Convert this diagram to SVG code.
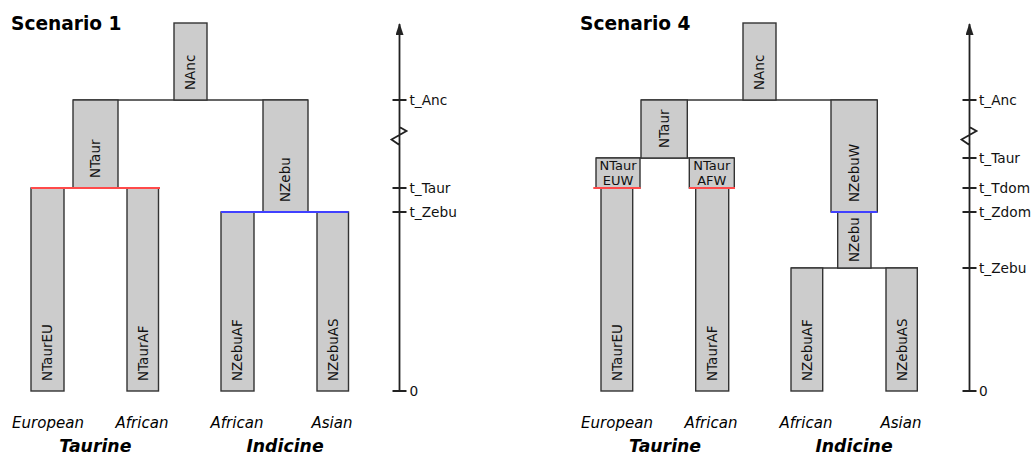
<svg xmlns="http://www.w3.org/2000/svg" width="1033" height="455" viewBox="0 0 1033 455">
<style>
.box{fill:#cccccc;stroke:#333333;stroke-width:1.4}
.ln{stroke:#333333;stroke-width:1.6;fill:none}
.red{stroke:#ff4a4a;stroke-width:1.8}
.blue{stroke:#4040ff;stroke-width:1.8}
.ax{stroke:#222222;stroke-width:1.8;fill:none}
.bl{font-family:"DejaVu Sans",Verdana,sans-serif;font-size:13.5px;fill:#111111}
.tl{font-family:"DejaVu Sans",Verdana,sans-serif;font-size:13.7px;fill:#111111}
.title{font-family:"DejaVu Sans",Verdana,sans-serif;font-size:18.6px;font-weight:bold;fill:#000000}
.pop{font-family:"DejaVu Sans",Verdana,sans-serif;font-size:15px;font-style:italic;fill:#000000;text-anchor:middle}
.grp{font-family:"DejaVu Sans",Verdana,sans-serif;font-size:17.3px;font-style:italic;font-weight:bold;fill:#000000;text-anchor:middle}
.sm{font-family:"DejaVu Sans",Verdana,sans-serif;font-size:13px;fill:#111111;text-anchor:middle}
</style>
<defs>
<marker id="arr" viewBox="0 0 12 8" refX="11" refY="4" markerWidth="12" markerHeight="8" markerUnits="userSpaceOnUse" orient="auto">
<path d="M0,0 L12,4 L0,8 Z" fill="#222222"/>
</marker>
</defs>
<rect width="1033" height="455" fill="#ffffff"/>

<!-- Scenario 1 -->
<text class="title" x="11" y="29.5">Scenario 1</text>
<g id="connectors1">
<line class="ln" x1="73" y1="100" x2="308" y2="100"/>
</g>
<g id="s1-NAnc"><rect class="box" x="174" y="23" width="33" height="77"/><text class="bl" transform="translate(195.3,90) rotate(-90)">NAnc</text></g>
<g id="s1-NTaur"><rect class="box" x="73" y="100" width="45" height="88"/><text class="bl" transform="translate(100.3,178) rotate(-90)">NTaur</text></g>
<g id="s1-NZebu"><rect class="box" x="263" y="100" width="45" height="112"/><text class="bl" transform="translate(290.3,202) rotate(-90)">NZebu</text></g>
<g id="s1-NTaurEU"><rect class="box" x="31" y="188" width="33" height="203"/><text class="bl" transform="translate(52.3,381) rotate(-90)">NTaurEU</text></g>
<g id="s1-NTaurAF"><rect class="box" x="127" y="188" width="31.5" height="203"/><text class="bl" transform="translate(147.5,381) rotate(-90)">NTaurAF</text></g>
<g id="s1-NZebuAF"><rect class="box" x="221" y="212" width="33" height="179"/><text class="bl" transform="translate(242.3,381) rotate(-90)">NZebuAF</text></g>
<g id="s1-NZebuAS"><rect class="box" x="317" y="212" width="31.5" height="179"/><text class="bl" transform="translate(337.5,381) rotate(-90)">NZebuAS</text></g>
<g id="events1">
<line class="red" x1="31" y1="188" x2="160" y2="188"/>
<line class="blue" x1="221" y1="212" x2="348.5" y2="212"/>
</g>
<g id="axis1">
<path class="ax" d="M399.5,391 V127 L406.5,131 L391.5,139.5 L399.5,145 V24" marker-end="url(#arr)"/>
<path class="ax" d="M392.5,100 H406.5 M392.5,188 H406.5 M392.5,212 H406.5 M392.5,391 H406.5"/>
<text class="tl" x="409.5" y="104.5">t_Anc</text>
<text class="tl" x="409.5" y="192.5">t_Taur</text>
<text class="tl" x="409.5" y="216.5">t_Zebu</text>
<text class="tl" x="409.5" y="395.5">0</text>
</g>
<g id="labels1">
<text class="pop" x="48" y="428">European</text>
<text class="pop" x="142" y="428">African</text>
<text class="pop" x="237" y="428">African</text>
<text class="pop" x="332" y="428">Asian</text>
<text class="grp" x="95.3" y="451.5">Taurine</text>
<text class="grp" x="285" y="451.5">Indicine</text>
</g>

<!-- Scenario 4 -->
<text class="title" x="580" y="29.5">Scenario 4</text>
<g id="connectors4">
<line class="ln" x1="641" y1="100" x2="877.3" y2="100"/>
<line class="ln" x1="596" y1="158" x2="734.3" y2="158"/>
<line class="ln" x1="791" y1="268" x2="918" y2="268"/>
</g>
<g id="s4-NAnc"><rect class="box" x="743" y="23" width="33" height="77"/><text class="bl" transform="translate(764.3,90) rotate(-90)">NAnc</text></g>
<g id="s4-NTaur"><rect class="box" x="641" y="100" width="46.3" height="58"/><text class="bl" transform="translate(669,148) rotate(-90)">NTaur</text></g>
<g id="s4-NTaurEUW"><rect class="box" x="596" y="158" width="44" height="30"/><text class="sm" x="618" y="170">NTaur</text><text class="sm" x="618" y="184.5">EUW</text></g>
<g id="s4-NTaurAFW"><rect class="box" x="689.3" y="158" width="45" height="30"/><text class="sm" x="711.8" y="170">NTaur</text><text class="sm" x="711.8" y="184.5">AFW</text></g>
<g id="s4-NZebuW"><rect class="box" x="831" y="100" width="46.3" height="112"/><text class="bl" transform="translate(859,202) rotate(-90)">NZebuW</text></g>
<g id="s4-NZebu"><rect class="box" x="837.7" y="212" width="33.3" height="56"/><text class="bl" transform="translate(859.2,262) rotate(-90)">NZebu</text></g>
<g id="s4-NTaurEU"><rect class="box" x="601" y="188" width="31.7" height="203"/><text class="bl" transform="translate(621.7,381) rotate(-90)">NTaurEU</text></g>
<g id="s4-NTaurAF"><rect class="box" x="695.7" y="188" width="33" height="203"/><text class="bl" transform="translate(717,381) rotate(-90)">NTaurAF</text></g>
<g id="s4-NZebuAF"><rect class="box" x="791" y="268" width="31.7" height="123"/><text class="bl" transform="translate(811.7,381) rotate(-90)">NZebuAF</text></g>
<g id="s4-NZebuAS"><rect class="box" x="886" y="268" width="31.3" height="123"/><text class="bl" transform="translate(906.5,381) rotate(-90)">NZebuAS</text></g>
<g id="events4">
<line class="red" x1="593.3" y1="188" x2="640.7" y2="188"/>
<line class="red" x1="689" y1="188" x2="735" y2="188"/>
<line class="blue" x1="831" y1="212" x2="877.3" y2="212"/>
</g>
<g id="axis4">
<path class="ax" d="M969.5,391 V127 L976.5,131 L961.5,139.5 L969.5,145 V24" marker-end="url(#arr)"/>
<path class="ax" d="M962.5,100 H976.5 M962.5,158 H976.5 M962.5,188 H976.5 M962.5,212 H976.5 M962.5,268 H976.5 M962.5,391 H976.5"/>
<text class="tl" x="979" y="104.5">t_Anc</text>
<text class="tl" x="979" y="162.5">t_Taur</text>
<text class="tl" x="979" y="192.5">t_Tdom</text>
<text class="tl" x="979" y="216.5">t_Zdom</text>
<text class="tl" x="979" y="272.5">t_Zebu</text>
<text class="tl" x="979" y="395.5">0</text>
</g>
<g id="labels4">
<text class="pop" x="617" y="428">European</text>
<text class="pop" x="711" y="428">African</text>
<text class="pop" x="806" y="428">African</text>
<text class="pop" x="901" y="428">Asian</text>
<text class="grp" x="665" y="451.5">Taurine</text>
<text class="grp" x="854" y="451.5">Indicine</text>
</g>
</svg>
